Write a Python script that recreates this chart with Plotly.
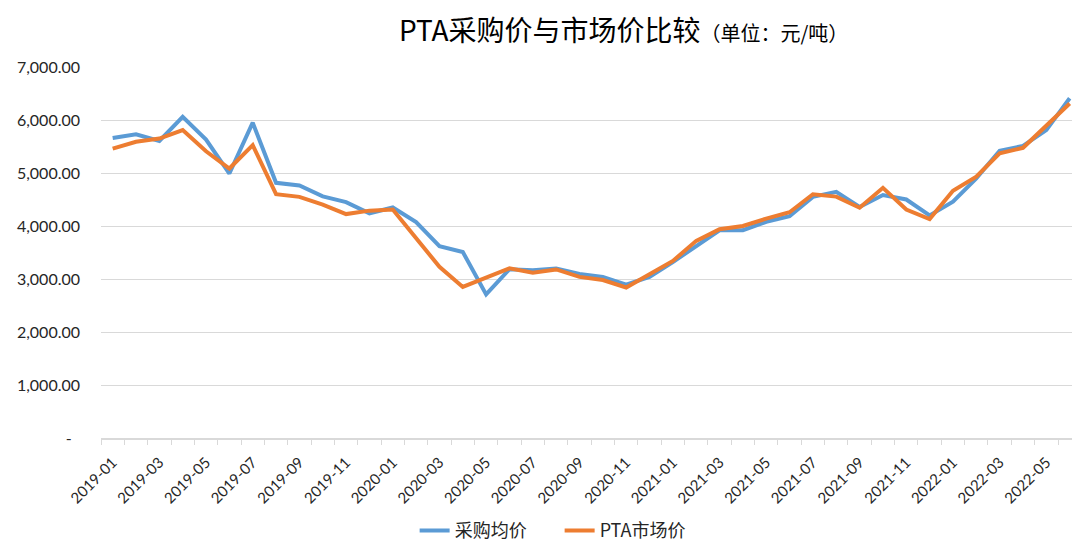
import plotly.graph_objects as go

months = [f"{y}-{m:02d}" for y in (2019, 2020, 2021) for m in range(1, 13)] + [f"2022-{m:02d}" for m in range(1, 7)]

purchase_avg = [5660, 5730, 5605, 6060, 5630, 4990, 5950, 4815, 4765, 4560,
                4450, 4240, 4350, 4075, 3620, 3510, 2710, 3185, 3165, 3200,
                3095, 3040, 2895, 3040, 3320, 3630, 3920, 3920, 4080, 4185,
                4550, 4645, 4360, 4585, 4500, 4200, 4460, 4900, 5420, 5510,
                5810, 6410]

market_price = [5460, 5590, 5650, 5810, 5410, 5085, 5525, 4600, 4550, 4405,
                4225, 4290, 4310, 3770, 3230, 2850, 3020, 3200, 3120, 3180,
                3040, 2980, 2840, 3100, 3340, 3720, 3940, 4000, 4140, 4260,
                4600, 4555, 4345, 4720, 4310, 4130, 4665, 4930, 5370, 5475,
                5890, 6310]

y_tickvals = [0, 1000, 2000, 3000, 4000, 5000, 6000, 7000]
y_ticktext = ["-\u00a0\u00a0", "1,000.00", "2,000.00", "3,000.00", "4,000.00",
              "5,000.00", "6,000.00", "7,000.00"]

series_names = ["采购均价", "PTA市场价"]
colors = ["#5B9BD5", "#ED7D31"]

idx = list(range(len(months)))
x_tickvals = idx[::2]
x_ticktext = months[::2]

fig = go.Figure()
for name, vals, col in zip(series_names, [purchase_avg, market_price], colors):
    fig.add_trace(go.Scatter(x=idx, y=vals, mode="lines", name=name,
                             line=dict(color=col, width=4)))

cjk = "Noto Sans CJK SC"
num_font = "Lato, Noto Sans CJK SC"

W, H = 1072, 545

fig.update_layout(
    width=W, height=H,
    paper_bgcolor="white", plot_bgcolor="white",
    margin=dict(l=101, r=0, t=67, b=107, autoexpand=False),
    title=dict(
        text="PTA采购价与市场价比较<span style='font-size:20px'>（单位：元/吨）</span>",
        font=dict(family=cjk, size=28, color="#000000"),
        x=399 / W, xanchor="left", xref="container",
        y=1 - 31 / H, yanchor="middle", yref="container",
        automargin=False,
    ),
    legend=dict(orientation="h", x=0.323, xanchor="left", y=-0.25, yanchor="middle",
                font=dict(family=cjk, size=18, color="#262626"),
                itemwidth=30, tracegroupgap=0,
                entrywidth=100, entrywidthmode="pixels"),
    showlegend=True,
)

fig.update_yaxes(
    range=[0, 7000], tickvals=y_tickvals, ticktext=y_ticktext,
    showgrid=True, gridcolor="#D9D9D9", gridwidth=1.3,
    zeroline=False, showline=False, ticks="",
    ticklabelstandoff=20, automargin=False,
    tickfont=dict(family=num_font, size=16, color="#262626"),
)

fig.update_xaxes(
    range=[-0.5, 41.1], tickvals=x_tickvals, ticktext=x_ticktext,
    tickangle=-45, showgrid=False, zeroline=False,
    showline=True, linecolor="#D9D9D9", linewidth=1.5,
    ticks="", ticklabelstandoff=8, automargin=False,
    minor=dict(ticks="outside", tick0=-0.5, dtick=1, ticklen=5,
               tickcolor="#D9D9D9", tickwidth=1, showgrid=False),
    tickfont=dict(family=num_font, size=15, color="#262626"),
)

fig.write_html("out.html", config={"displayModeBar": False},
               post_script="document.body.style.margin='0';document.body.style.overflow='hidden';")
